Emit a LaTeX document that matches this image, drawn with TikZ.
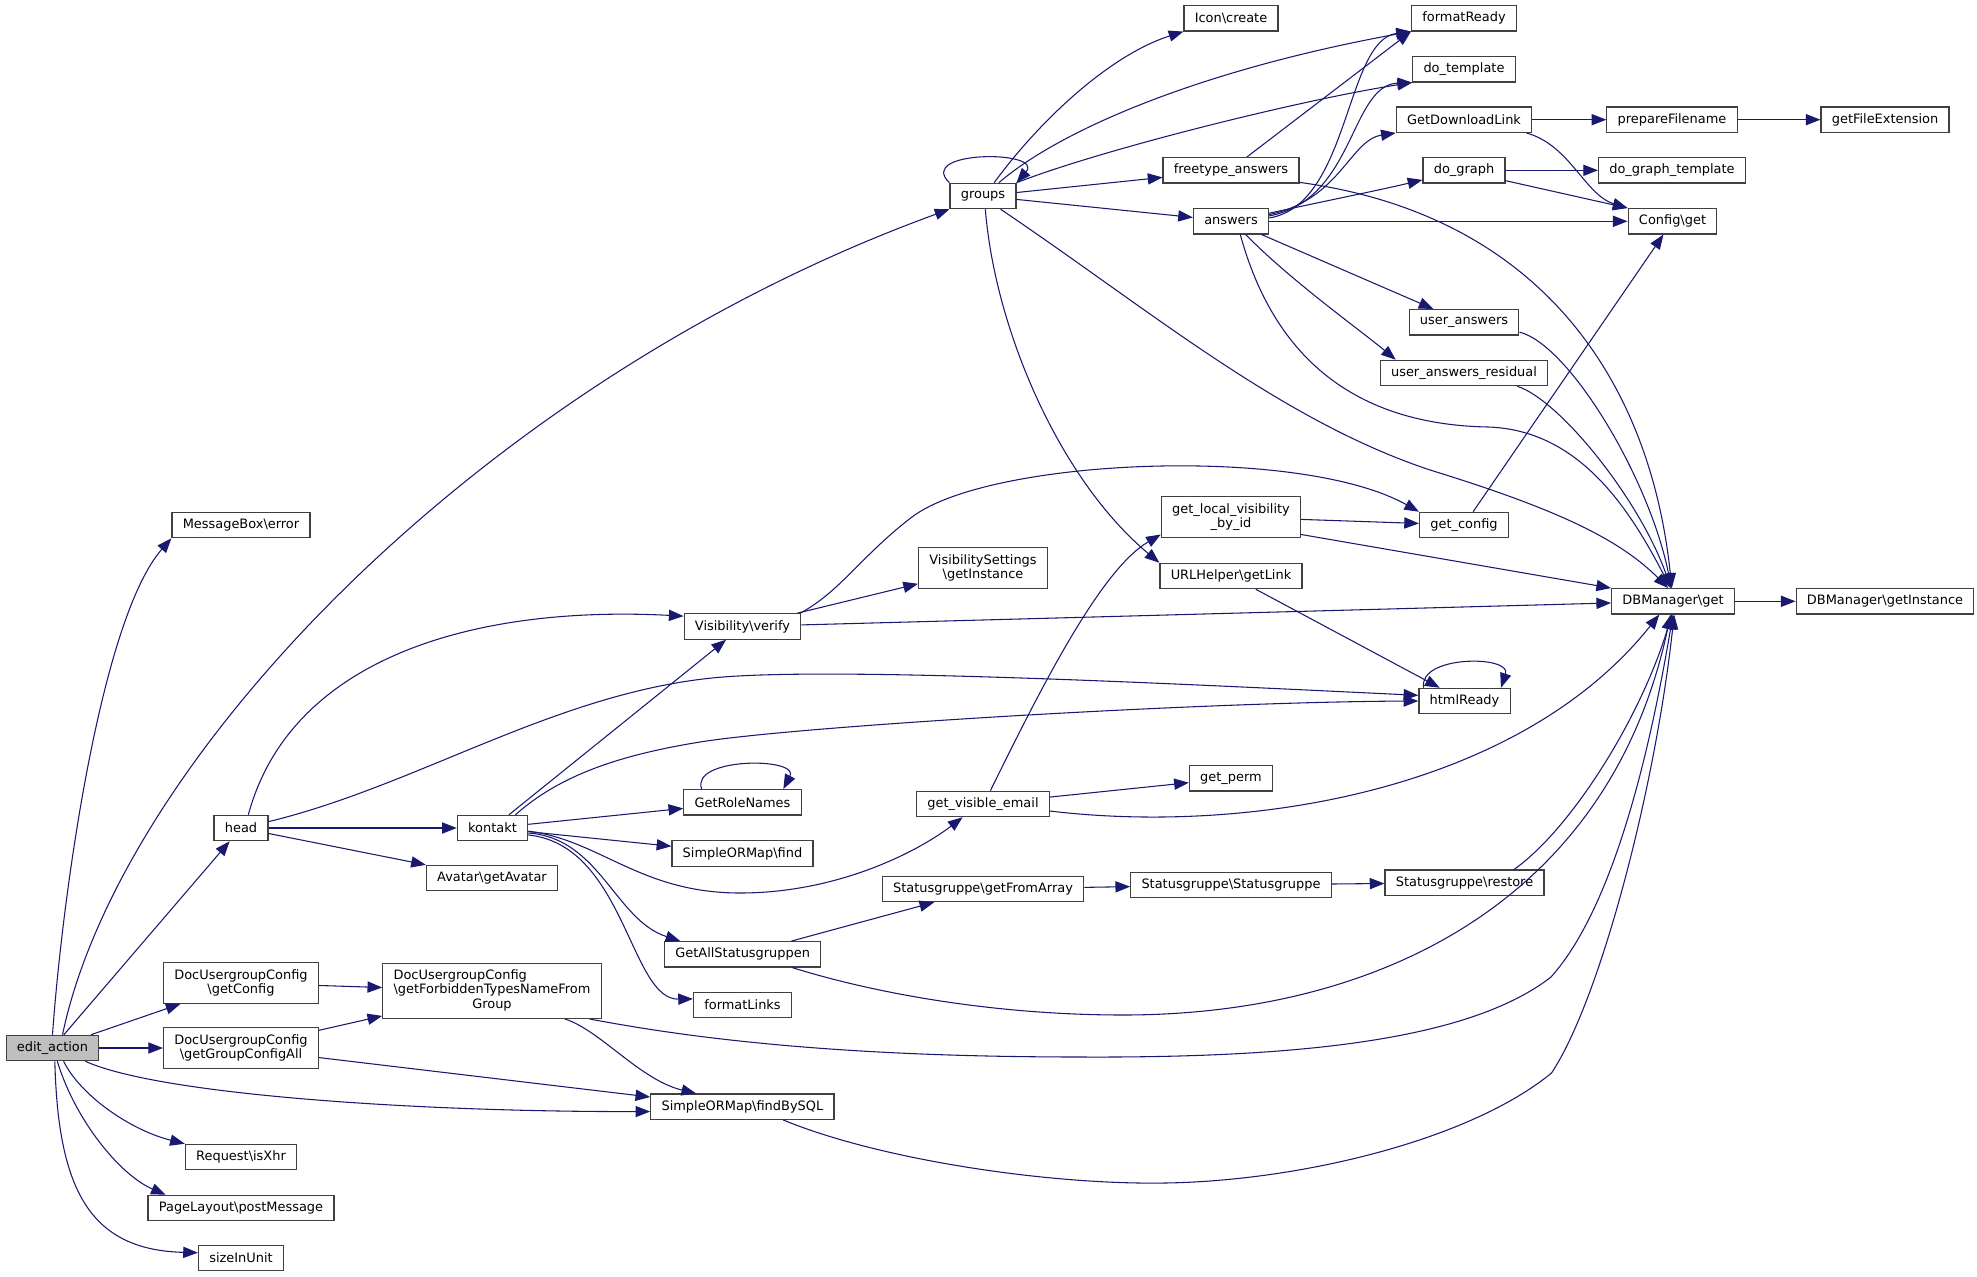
\documentclass[tikz,border=0pt]{standalone}
\usepackage{fontspec}
\setmainfont{DejaVu Sans}
\usetikzlibrary{arrows.meta}

\definecolor{edgeblue}{HTML}{191970}
\definecolor{boxline}{HTML}{404040}
\definecolor{rootfill}{HTML}{BFBFBF}
\newcommand{\backsl}{\textbackslash}

\tikzset{
  fn/.style={draw=boxline, line width=0.9pt, fill=white,
    font=\fontsize{9.7}{11}\selectfont, inner xsep=8.1pt, inner ysep=1pt,
    minimum height=19pt},
  fn2/.style={fn, align=center, minimum height=30.4pt},
  fn3/.style={fn, minimum height=41pt},
  call/.style={draw=edgeblue, line width=0.8pt,
    -{Triangle[length=11pt,width=8.4pt]}}
}

\begin{document}
\begin{tikzpicture}[x=0.75pt, y=-0.75pt]
\useasboundingbox (0,0) rectangle (1977,1277);

% first column
\node[fn, fill=rootfill] (edit) at (52.5,1048) {edit\_action};
\node[fn] (msgerror) at (241,525) {MessageBox\backsl error};
\node[fn] (head) at (241,828) {head};
\node[fn2] (ducconfig) at (241,983) {DocUsergroupConfig\\\backsl getConfig};
\node[fn2] (ducall) at (241,1048) {DocUsergroupConfig\\\backsl getGroupConfigAll};
\node[fn] (isxhr) at (241,1157) {Request\backsl isXhr};
\node[fn] (postmsg) at (241,1208) {PageLayout\backsl postMessage};
\node[fn] (sizeunit) at (241,1258) {sizeInUnit};

% second column
\node[fn] (kontakt) at (492.5,828) {kontakt};
\node[fn] (avatar) at (492,878) {Avatar\backsl getAvatar};
\node[fn3] (forbidden) at (492,991) {\begin{tabular}{@{}l@{}}DocUsergroupConfig\\
  \backsl getForbiddenTypesNameFrom\\\multicolumn{1}{@{}c@{}}{Group}\end{tabular}};

% third column
\node[fn] (verify) at (742.5,626.5) {Visibility\backsl verify};
\node[fn] (rolenames) at (742.5,802.3) {GetRoleNames};
\node[fn] (ormfind) at (742.5,853.5) {SimpleORMap\backsl find};
\node[fn] (allsg) at (742.7,954.3) {GetAllStatusgruppen};
\node[fn] (formatlinks) at (742.5,1005) {formatLinks};
\node[fn] (findsql) at (742.4,1106.7) {SimpleORMap\backsl findBySQL};

% fourth column
\node[fn] (groups) at (983,196) {groups};
\node[fn2] (visinstance) at (983,568) {VisibilitySettings\\\backsl getInstance};
\node[fn] (visemail) at (983,804) {get\_visible\_email};
\node[fn] (sgarray) at (983,889) {Statusgruppe\backsl getFromArray};

% fifth column
\node[fn] (iconcreate) at (1231,18.3) {Icon\backsl create};
\node[fn] (freetype) at (1231,170.3) {freetype\_answers};
\node[fn] (answers) at (1231,221.3) {answers};
\node[fn2] (localvis) at (1231,517) {get\_local\_visibility\\\_by\_id};
\node[fn] (urllink) at (1231,576) {URLHelper\backsl getLink};
\node[fn] (getperm) at (1231,778.3) {get\_perm};
\node[fn] (sgsg) at (1231,885) {Statusgruppe\backsl Statusgruppe};

% sixth column
\node[fn] (formatready) at (1464,18.3) {formatReady};
\node[fn] (dotemplate) at (1464,69.3) {do\_template};
\node[fn] (downloadlink) at (1464,119.7) {GetDownloadLink};
\node[fn] (dograph) at (1464,170.3) {do\_graph};
\node[fn] (useranswers) at (1464,322.3) {user\_answers};
\node[fn] (uaresidual) at (1464,373) {user\_answers\_residual};
\node[fn] (getconfig) at (1464,525) {get\_config};
\node[fn] (htmlready) at (1464.5,701) {htmlReady};
\node[fn] (sgrestore) at (1464.5,882.7) {Statusgruppe\backsl restore};

% last columns
\node[fn] (prepfile) at (1672,119.7) {prepareFilename};
\node[fn] (dographtpl) at (1672,170.3) {do\_graph\_template};
\node[fn] (configget) at (1672.5,221.3) {Config\backsl get};
\node[fn] (dbget) at (1673,601.3) {DBManager\backsl get};
\node[fn] (fileext) at (1885,119.7) {getFileExtension};
\node[fn] (dbinst) at (1885,601.3) {DBManager\backsl getInstance};

% calls of edit_action
\draw[call] (edit.north) .. controls (62,900) and (100,620) .. (msgerror.south west);
\draw[call] (edit.53) .. controls (120,760) and (480,380) .. (groups.south west);
\draw[call] (edit) -- (head);
\draw[call] (edit) -- (ducconfig);
\draw[call] (edit) -- (ducall);
\draw[call] (edit.-22) .. controls (160,1095) and (420,1112) .. (findsql.-177);
\draw[call] (edit.-50) .. controls (80,1095) and (130,1130) .. (isxhr.north west);
\draw[call] (edit.-70) .. controls (75,1120) and (120,1175) .. (postmsg.170);
\draw[call] (edit.-80) .. controls (58,1190) and (90,1250) .. (sizeunit.173);

% groups
\draw[call] (groups.north west) .. controls (915,150) and (1045,150) .. (groups.north east);
\draw[call] (groups.50) .. controls (1040,120) and (1110,55) .. (iconcreate.south west);
\draw[call] (groups.40) .. controls (1060,130) and (1200,70) .. (formatready.south west);
\draw[call] (groups.north east) .. controls (1100,150) and (1300,100) .. (dotemplate.south west);
\draw[call] (groups) -- (freetype);
\draw[call] (groups) -- (answers);
\draw[call] (groups.-80) .. controls (995,330) and (1060,480) .. (urllink.north west);
\draw[call] (groups.-37) .. controls (1150,310) and (1280,420) .. (1430,470)
  .. controls (1560,510) and (1620,540) .. (dbget.110);

% freetype_answers and answers
\draw[call] (freetype.40) -- (formatready.south west);
\draw[call] (freetype.-10) .. controls (1540,215) and (1650,380) .. (dbget.95);
\draw[call] (answers.5) .. controls (1350,205) and (1345,40) .. (formatready.south west);
\draw[call] (answers.8) .. controls (1355,200) and (1350,85) .. (dotemplate.south west);
\draw[call] (answers.10) .. controls (1340,200) and (1350,140) .. (downloadlink.south west);
\draw[call] (answers.12) .. controls (1330,200) and (1380,190) .. (dograph.-167);
\draw[call] (answers) -- (configget);
\draw[call] (answers) -- (useranswers);
\draw[call] (answers.-42) .. controls (1290,280) and (1360,330) .. (uaresidual.169);
\draw[call] (answers.-55) .. controls (1280,380) and (1380,425) .. (1488,427)
  .. controls (1580,430) and (1630,510) .. (dbget.100);

% right side
\draw[call] (downloadlink) -- (prepfile);
\draw[call] (prepfile) -- (fileext);
\draw[call] (downloadlink.-12) .. controls (1570,145) and (1585,195) .. (configget.north west);
\draw[call] (dograph) -- (dographtpl);
\draw[call] (dograph.-14) -- (configget.north west);
\draw[call] (useranswers.-10) .. controls (1570,345) and (1650,480) .. (dbget.97);
\draw[call] (uaresidual.-14) .. controls (1560,400) and (1640,500) .. (dbget.99);
\draw[call] (getconfig) -- (configget);
\draw[call] (localvis) -- (getconfig);
\draw[call] (localvis.-14) -- (dbget.north west);
\draw[call] (urllink) -- (htmlready);
\draw[call] (htmlready.162) .. controls (1418,655) and (1512,655) .. (htmlready.20);
\draw[call] (dbget) -- (dbinst);

% Visibility\verify and head
\draw[call] (verify.13) .. controls (840,592) and (862,555) .. (912,517)
  .. controls (990,458) and (1300,445) .. (getconfig.north west);
\draw[call] (verify) -- (visinstance);
\draw[call] (verify) -- (dbget);
\draw[call] (head.61) .. controls (290,660) and (470,605) .. (verify.170);
\draw[call] (head.13) .. controls (420,785) and (560,690) .. (723,677)
  .. controls (850,667) and (1200,685) .. (htmlready.173);
\draw[call] (head) -- (kontakt);
\draw[call] (head) -- (avatar);

% kontakt
\draw[call] (kontakt) -- (verify);
\draw[call] (kontakt.30) .. controls (560,775) and (620,755) .. (700,742)
  .. controls (800,726) and (1200,702) .. (htmlready.west);
\draw[call] (kontakt) -- (rolenames);
\draw[call] (rolenames.162) .. controls (690,757) and (800,757) .. (rolenames.18);
\draw[call] (kontakt) -- (ormfind);
\draw[call] (kontakt.-5) .. controls (600,840) and (640,893) .. (740,893)
  .. controls (840,893) and (920,850) .. (visemail.-147);
\draw[call] (kontakt.-8) .. controls (600,838) and (615,920) .. (allsg.168);
\draw[call] (kontakt.-11) .. controls (625,845) and (630,1000) .. (formatlinks.173);

% get_visible_email and Statusgruppe
\draw[call] (visemail.61) .. controls (1040,690) and (1100,570) .. (localvis.-166);
\draw[call] (visemail) -- (getperm);
\draw[call] (visemail.-6) .. controls (1250,835) and (1520,790) .. (dbget.-136);
\draw[call] (allsg) -- (sgarray);
\draw[call] (allsg.-15) .. controls (880,995) and (1000,1015) .. (1123,1015)
  .. controls (1380,1015) and (1610,900) .. (dbget.-100);
\draw[call] (sgarray) -- (sgsg);
\draw[call] (sgsg) -- (sgrestore);
\draw[call] (sgrestore.15) .. controls (1570,830) and (1640,720) .. (dbget.-95);

% DocUsergroupConfig and SimpleORMap
\draw[call] (ducconfig) -- (forbidden);
\draw[call] (ducall) -- (forbidden);
\draw[call] (ducall.-7) -- (findsql.174);
\draw[call] (forbidden.-21) .. controls (600,1030) and (640,1080) .. (findsql.164);
\draw[call] (forbidden.-16) .. controls (700,1040) and (850,1057) .. (1081,1057)
  .. controls (1300,1058) and (1470,1040) .. (1551,977)
  .. controls (1620,900) and (1655,720) .. (dbget.-90);
\draw[call] (findsql.-18) .. controls (880,1160) and (1050,1185) .. (1165,1183)
  .. controls (1300,1181) and (1470,1140) .. (1551.5,1073)
  .. controls (1600,1000) and (1655,790) .. (dbget.-85);
\end{tikzpicture}
\end{document}
